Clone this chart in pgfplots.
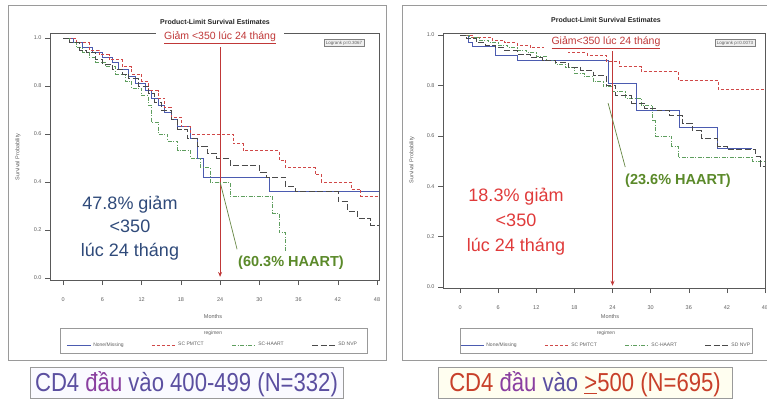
\documentclass[border=0pt]{standalone}
\usepackage{pgfplots}
\pgfplotsset{compat=1.18}
\usetikzlibrary{arrows.meta}
\usepackage{fontspec}
\setmainfont{Liberation Sans}
\definecolor{cBlue}{HTML}{4B5BB0}
\definecolor{cRed}{HTML}{D04848}
\definecolor{cGreen}{HTML}{5E9E5E}
\definecolor{cDark}{HTML}{4A4A4A}
\definecolor{annBlue}{HTML}{2F4A7A}
\definecolor{annGreen}{HTML}{5B8A2A}
\definecolor{annRed}{HTML}{E03A3A}
\definecolor{arrowRed}{HTML}{C03838}
\definecolor{frameGray}{HTML}{9A9A9A}
\definecolor{tickGray}{HTML}{606060}
\definecolor{capPurple}{HTML}{5B4FA0}
\definecolor{capViolet}{HTML}{8A3FA0}
\definecolor{capRed}{HTML}{C8402A}
\pgfplotsset{
 surv/.style={
  scale only axis,
  axis line style={gray!70!black, line width=0.5pt},
  tick pos=left, tick align=outside, major tick length=5pt,
  tick style={gray!70!black, line width=0.4pt},
  xtick={0,6,12,18,24,30,36,42,48},
  ytick={0,0.2,0.4,0.6,0.8,1},
  ticklabel style={font=\fontsize{5.5}{6}\selectfont, text=tickGray},
  /pgf/number format/assume math mode=true,
  yticklabel style={/pgf/number format/.cd, fixed, fixed zerofill, precision=1},
  xticklabel style={yshift=-9pt},
  legend columns=4,
  legend cell align=left,
  legend image code/.code={\draw[#1] (0pt,0pt) -- (24pt,0pt);},
  clip=false,
 },
 nm/.style={cBlue, line width=0.6pt},
 pm/.style={cRed, line width=0.6pt, dash pattern=on 3pt off 2pt},
 ha/.style={cGreen, line width=0.6pt, dash pattern=on 4pt off 1.5pt on 1pt off 1.5pt},
 nv/.style={cDark, line width=0.6pt, dash pattern=on 6pt off 2.5pt},
 legsty/.style={draw=none, fill=none, font=\fontsize{5}{6}\selectfont, text=tickGray,
   /tikz/every even column/.append style={column sep=26pt}},
}
\begin{document}
\begin{tikzpicture}[x=1pt,y=1pt]
\useasboundingbox (0,0) rectangle (767,399);
\fill[white] (0,0) rectangle (767,399);
% outer frames
\draw[frameGray, line width=0.8pt] (8,39) rectangle (386,394);
\draw[frameGray, line width=0.8pt] (402,39) rectangle (775,394);

% ---------------- LEFT ----------------
\begin{axis}[surv, at={(50pt,119pt)}, anchor=south west, width=329pt, height=247pt,
  xmin=-2, xmax=48.3, ymin=-0.008, ymax=1.02,
  legend style={legsty, at={(0.495,-0.263)}, anchor=center}]
\addplot[nm] coordinates {(0,1)(1.5,1)(1.5,0.98)(3,0.98)(3,0.96)(4.5,0.96)(4.5,0.94)(6,0.94)(6,0.92)(7.5,0.92)(7.5,0.9)(8.5,0.9)(8.5,0.87)(10,0.87)(10,0.84)(11,0.84)(11,0.81)(12.5,0.81)(12.5,0.78)(13.5,0.78)(13.5,0.75)(14.5,0.75)(14.5,0.72)(15.5,0.72)(15.5,0.69)(16.5,0.69)(16.5,0.66)(17.5,0.66)(17.5,0.63)(19.5,0.63)(19.5,0.58)(20.5,0.58)(20.5,0.5)(21.5,0.5)(21.5,0.42)(31.5,0.42)(31.5,0.36)(48.3,0.36)};
\addlegendentry{None/Missing}
\addplot[pm] coordinates {(0,1)(2,1)(2,0.98)(4,0.98)(4,0.95)(5.5,0.95)(5.5,0.93)(7,0.93)(7,0.91)(9,0.91)(9,0.88)(10.5,0.88)(10.5,0.85)(12,0.85)(12,0.82)(13,0.82)(13,0.78)(14.5,0.78)(14.5,0.75)(15.5,0.75)(15.5,0.71)(16.5,0.71)(16.5,0.67)(18,0.67)(18,0.63)(19.5,0.63)(19.5,0.6)(26,0.6)(26,0.56)(27.5,0.56)(27.5,0.53)(33,0.53)(33,0.49)(34,0.49)(34,0.46)(38.5,0.46)(38.5,0.43)(39.5,0.43)(39.5,0.4)(44,0.4)(44,0.37)(45.5,0.37)(45.5,0.34)(48.3,0.34)};
\addlegendentry{SC PMTCT}
\addplot[ha] coordinates {(0,1)(1,1)(1,0.98)(2,0.98)(2,0.96)(3,0.96)(3,0.94)(4,0.94)(4,0.92)(5,0.92)(5,0.9)(6.5,0.9)(6.5,0.88)(8,0.88)(8,0.85)(9.5,0.85)(9.5,0.82)(10.5,0.82)(10.5,0.79)(12,0.79)(12,0.76)(13,0.76)(13,0.72)(13.5,0.72)(13.5,0.65)(14.5,0.65)(14.5,0.6)(16,0.6)(16,0.57)(17.5,0.57)(17.5,0.53)(19.5,0.53)(19.5,0.5)(21,0.5)(21,0.46)(22.5,0.46)(22.5,0.4)(25.5,0.4)(25.5,0.34)(32,0.34)(32,0.27)(33,0.27)(33,0.19)(34,0.19)(34,0.11)};
\addlegendentry{SC-HAART}
\addplot[nv] coordinates {(0,1)(1,1)(1,0.98)(2.5,0.98)(2.5,0.95)(3.5,0.95)(3.5,0.94)(5,0.94)(5,0.91)(6,0.91)(6,0.89)(7.5,0.89)(7.5,0.87)(9,0.87)(9,0.85)(10,0.85)(10,0.83)(11.5,0.83)(11.5,0.8)(13,0.8)(13,0.77)(14,0.77)(14,0.73)(15,0.73)(15,0.7)(16.5,0.7)(16.5,0.66)(17.5,0.66)(17.5,0.62)(19,0.62)(19,0.58)(20.5,0.58)(20.5,0.55)(22,0.55)(22,0.52)(23.5,0.52)(23.5,0.5)(25.5,0.5)(25.5,0.47)(30,0.47)(30,0.44)(31,0.44)(31,0.42)(34,0.42)(34,0.38)(35.5,0.38)(35.5,0.36)(42,0.36)(42,0.32)(43.5,0.32)(43.5,0.28)(45,0.28)(45,0.25)(47,0.25)(47,0.22)(48.3,0.22)};
\addlegendentry{SD NVP}
\addplot[arrowRed, line width=0.7pt, -{Stealth[length=5pt,width=4pt]}, forget plot] coordinates {(24,0.96)(24,0.005)};
\addplot[annGreen!70!gray, line width=0.7pt, forget plot] coordinates {(24,0.40)(26.6,0.12)};
\end{axis}

% ---------------- RIGHT ----------------
\begin{axis}[surv, at={(443pt,111pt)}, anchor=south west, width=322pt, height=255pt,
  xmin=-2.68, xmax=48.0, ymin=-0.004, ymax=1.008,
  legend style={legsty, at={(0.506,-0.224)}, anchor=center}]
\addplot[nm] coordinates {(0,1)(1.3,1)(1.3,0.97)(2,0.97)(2,0.955)(5.5,0.955)(5.5,0.92)(9,0.92)(9,0.9)(23.3,0.9)(23.3,0.81)(27.8,0.81)(27.8,0.7)(34.5,0.7)(34.5,0.635)(40.5,0.635)(40.5,0.55)(46,0.55)};
\addlegendentry{None/Missing}
\addplot[pm] coordinates {(0,1)(2,1)(2,0.99)(5,0.99)(5,0.98)(7,0.98)(7,0.97)(9,0.97)(9,0.96)(11,0.96)(11,0.95)(14,0.95)(14,0.94)(17,0.94)(17,0.93)(20,0.93)(20,0.92)(23,0.92)(23,0.895)(25,0.895)(25,0.875)(28.5,0.875)(28.5,0.855)(34.3,0.855)(34.3,0.82)(40.6,0.82)(40.6,0.785)(48,0.785)};
\addlegendentry{SC PMTCT}
\addplot[ha] coordinates {(0,1)(1.5,1)(1.5,0.99)(3,0.99)(3,0.98)(4.5,0.98)(4.5,0.97)(6,0.97)(6,0.96)(7.5,0.96)(7.5,0.95)(9,0.95)(9,0.94)(10.5,0.94)(10.5,0.93)(12,0.93)(12,0.915)(13.5,0.915)(13.5,0.9)(15,0.9)(15,0.885)(16.5,0.885)(16.5,0.87)(18,0.87)(18,0.85)(19.5,0.85)(19.5,0.835)(21,0.835)(21,0.815)(22.5,0.815)(22.5,0.795)(24,0.795)(24,0.775)(26,0.775)(26,0.75)(28.5,0.75)(28.5,0.72)(30.3,0.72)(30.3,0.66)(30.8,0.66)(30.8,0.6)(33.3,0.6)(33.3,0.56)(34.3,0.56)(34.3,0.515)(46,0.515)(46,0.5)(48,0.5)};
\addlegendentry{SC-HAART}
\addplot[nv] coordinates {(0,1)(1,1)(1,0.985)(2.5,0.985)(2.5,0.97)(4,0.97)(4,0.96)(5.5,0.96)(5.5,0.95)(7,0.95)(7,0.94)(9,0.94)(9,0.925)(11,0.925)(11,0.91)(13,0.91)(13,0.9)(15,0.9)(15,0.89)(17,0.89)(17,0.87)(19,0.87)(19,0.86)(21,0.86)(21,0.84)(23,0.84)(23,0.8)(24.5,0.8)(24.5,0.76)(27,0.76)(27,0.73)(29,0.73)(29,0.71)(31,0.71)(31,0.7)(33,0.7)(33,0.68)(35,0.68)(35,0.65)(36.5,0.65)(36.5,0.62)(38,0.62)(38,0.59)(40.5,0.59)(40.5,0.56)(42,0.56)(42,0.545)(46.5,0.545)(46.5,0.52)(47.2,0.52)(47.2,0.48)(48,0.48)};
\addlegendentry{SD NVP}
\addplot[arrowRed, line width=0.7pt, -{Stealth[length=5pt,width=4pt]}, forget plot] coordinates {(24,0.94)(24,0.005)};
\addplot[annGreen!70!gray, line width=0.7pt, forget plot] coordinates {(23.3,0.73)(26,0.476)};
\end{axis}

% titles
\node[font=\bfseries\fontsize{7}{8}\selectfont, text=black!85] at (215,377) {Product-Limit Survival Estimates};
\node[font=\bfseries\fontsize{7}{8}\selectfont, text=black!85] at (606,379) {Product-Limit Survival Estimates};
\node[fill=white, inner xsep=8pt, inner ysep=2pt, text=arrowRed, font=\fontsize{10.5}{12}\selectfont] at (220,361) {\underline{Giảm <350 lúc 24 tháng}};
\node[fill=white, inner xsep=8pt, inner ysep=2pt, text=arrowRed, font=\fontsize{10.5}{12}\selectfont] at (606,356) {\underline{Giảm<350 lúc 24 tháng}};
% logrank boxes
\node[draw=gray, fill=gray!12, font=\fontsize{4.5}{5}\selectfont, inner sep=1.5pt, text=tickGray] at (344,356) {Logrank p=0.3067};
\node[draw=gray, fill=gray!12, font=\fontsize{4.5}{5}\selectfont, inner sep=1.5pt, text=tickGray] at (735,356) {Logrank p=0.0073};
% axis labels
\node[font=\fontsize{5.5}{6}\selectfont, text=tickGray] at (213,82) {Months};
\node[font=\fontsize{5.5}{6}\selectfont, text=tickGray] at (610,82) {Months};
\node[font=\fontsize{5.5}{6}\selectfont, text=tickGray, rotate=90] at (18,242) {Survival Probability};
\node[font=\fontsize{5.5}{6}\selectfont, text=tickGray, rotate=90] at (412,239) {Survival Probability};
% legend boxes
\draw[gray!80, line width=0.5pt] (60,46) rectangle (367,71);
\draw[gray!80, line width=0.5pt] (460,46) rectangle (752,71);
\node[font=\fontsize{5}{6}\selectfont, text=tickGray] at (213,66) {regimen};
\node[font=\fontsize{5}{6}\selectfont, text=tickGray] at (606,66) {regimen};
% annotations
\node[align=center, text=annBlue, font=\fontsize{18}{23.5}\selectfont] at (130,171) {47.8\% giảm\\<350\\lúc 24 tháng};
\node[text=annGreen, font=\bfseries\fontsize{14.5}{16}\selectfont] at (291,136) {(60.3\% HAART)};
\node[align=center, text=annRed, font=\fontsize{18}{25}\selectfont] at (516,177) {18.3\% giảm\\<350\\lúc 24 tháng};
\node[text=annGreen, font=\bfseries\fontsize{14.5}{16}\selectfont] at (678,218) {(23.6\% HAART)};
% captions
\draw[frameGray, line width=0.8pt, fill=blue!2] (30,1) rectangle (343,32);
\node[font=\fontsize{26}{28}\selectfont] at (186.5,15) {\scalebox{0.85}[1]{\textcolor{capPurple}{CD4}\ \textcolor{capViolet}{đầu}\ \textcolor{capPurple}{vào 400-499 (N=332)}}};
\draw[frameGray, line width=0.8pt, fill=yellow!6] (438,1) rectangle (732,32);
\node[font=\fontsize{26}{28}\selectfont] at (585,15) {\scalebox{0.85}[1]{\textcolor{capRed}{CD4}\ \textcolor{capViolet}{đầu}\ \textcolor{capPurple}{vào}\ \textcolor{capRed}{\underline{>}500 (N=695)}}};
\end{tikzpicture}
\end{document}
